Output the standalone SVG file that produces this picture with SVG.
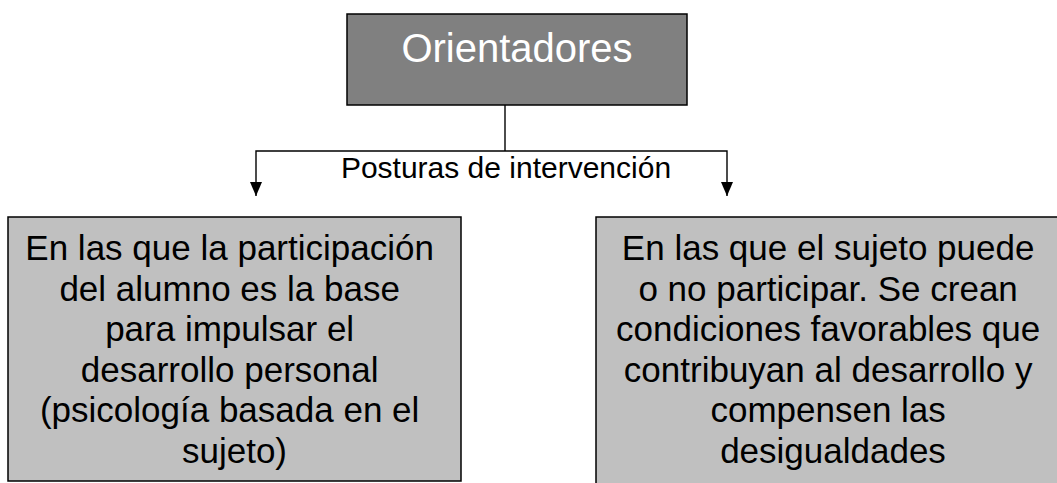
<svg xmlns="http://www.w3.org/2000/svg" width="1057" height="483" viewBox="0 0 1057 483">
<defs>
<style>
.box{stroke:#000;stroke-width:1.5}
.t{font-family:"Liberation Sans",Arial,sans-serif;text-anchor:middle}
.body{font-size:35px;fill:#000}
.conn{stroke:#000;stroke-width:1.4;fill:none}
</style>
<marker id="ah" markerUnits="userSpaceOnUse" markerWidth="14" markerHeight="16" refX="7" refY="14" orient="auto-start-reverse" viewBox="0 0 14 16">
<polygon points="1,0 13,0 7,14" fill="#000"/>
</marker>
</defs>
<rect width="1057" height="483" fill="#fff"/>
<g id="connectors">
<line class="conn" x1="505" y1="105" x2="505" y2="151"/>
<polyline class="conn" points="256,196 256,151 727,151 727,196"/>
<polygon points="250,182 262,182 256,196" fill="#000"/>
<polygon points="721,182 733,182 727,196" fill="#000"/>
<text class="t" x="506" y="178" font-size="30">Posturas de intervención</text>
</g>
<g id="node-orientadores">
<rect class="box" x="347" y="14" width="340" height="91" fill="#808080"/>
<text class="t" x="517" y="62" font-size="40" fill="#fff">Orientadores</text>
</g>
<g id="node-left">
<rect class="box" x="8" y="217" width="453" height="264" fill="#c0c0c0"/>
<text class="t body" x="234.5" y="260">
<tspan x="234.5" y="260">En las que la participación</tspan>
<tspan x="234.5" y="300.6">del alumno es la base</tspan>
<tspan x="234.5" y="341.2">para impulsar el</tspan>
<tspan x="234.5" y="381.8">desarrollo personal</tspan>
<tspan x="234.5" y="422.4">(psicología basada en el</tspan>
<tspan x="234.5" y="463">sujeto)</tspan>
</text>
</g>
<g id="node-right">
<rect class="box" x="596" y="217" width="474" height="290" fill="#c0c0c0"/>
<text class="t body" x="833" y="260">
<tspan x="833" y="260">En las que el sujeto puede</tspan>
<tspan x="833" y="300.6">o no participar. Se crean</tspan>
<tspan x="833" y="341.2">condiciones favorables que</tspan>
<tspan x="833" y="381.8">contribuyan al desarrollo y</tspan>
<tspan x="833" y="422.4">compensen las</tspan>
<tspan x="833" y="463">desigualdades</tspan>
</text>
</g>
</svg>
